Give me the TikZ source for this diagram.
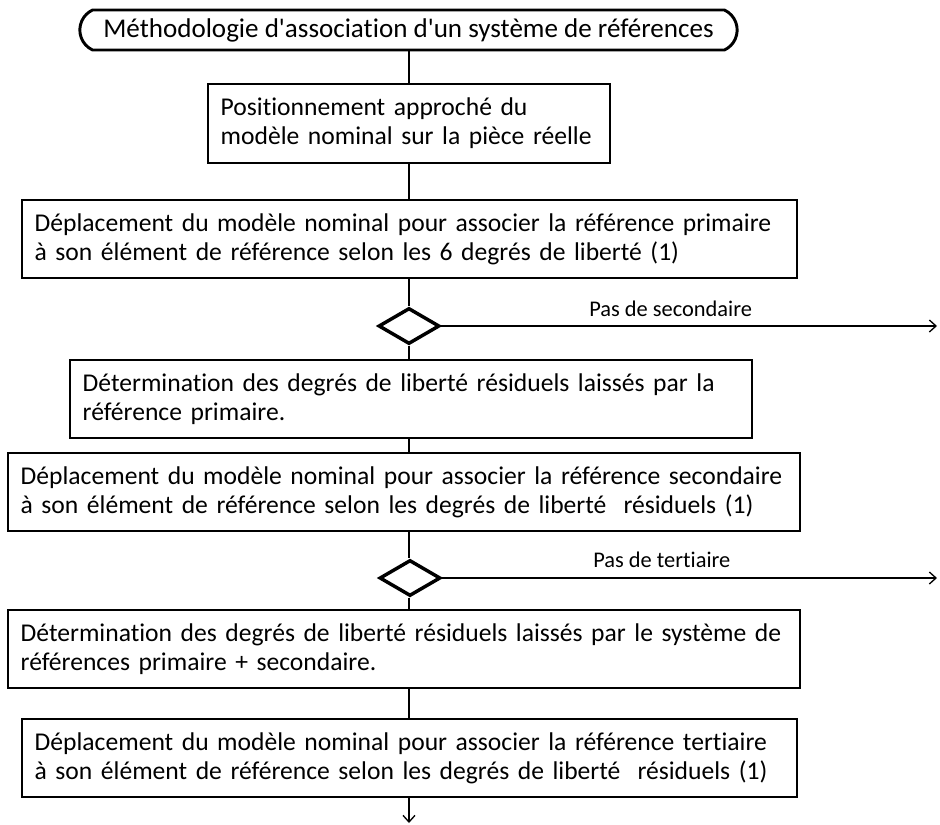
\documentclass[tikz,border=0pt]{standalone}
\usepackage{fontspec}
\setmainfont{Carlito}[Ligatures={TeXOff,NoCommon}]
\usetikzlibrary{positioning,shapes.geometric,shapes.misc,arrows.meta}
\tikzset{
  % --- boxes of the procedure -------------------------------------------------
  etape/.style={rectangle,draw,line width=1.5pt,inner xsep=9.5pt,inner ysep=0pt,
                align=left,font=\fontsize{19.2}{22}\selectfont},
  titre/.style={rounded rectangle,rounded rectangle arc length=130,draw,
                line width=2.2pt,inner xsep=4pt,font=\fontsize{20.3}{23}\selectfont},
  choix/.style={diamond,draw,line width=2.6pt,inner sep=0pt},
  % --- connectors -------------------------------------------------------------
  lien/.style={line width=1pt},
  sortie/.style={-{Straight Barb[length=5pt,width=9pt]},line width=1pt},
  etiq/.style={font=\fontsize{16.8}{19}\selectfont,anchor=base west,inner sep=0pt},
}
\begin{document}
\begin{tikzpicture}[x=0.75pt, y=-0.75pt]
  \useasboundingbox (0,0) rectangle (940,825);
  \coordinate (axe) at (409,0);

  % ---- title and approach ----
  \node[titre,minimum width=668*0.75pt,minimum height=40*0.75pt] (meth) at (408.5,30)
        {Méthodologie d'association d'un système de références};
  \node[etape,minimum width=402*0.75pt,minimum height=79*0.75pt,
        text width=402*0.75pt-19pt] (appr) at (409,123.5)
        {Positionnement approché du\\modèle nominal sur la pièce réelle};
  % ---- primary ----
  \node[etape,minimum width=775*0.75pt,minimum height=78*0.75pt,
        text width=775*0.75pt-19pt] (prim) at (409.5,239)
        {Déplacement du modèle nominal pour associer la référence primaire\\
         à son élément de référence selon les 6 degrés de liberté (1)};
  \node[choix,minimum width=61*0.75pt,minimum height=36*0.75pt] (ch1) at (409,326) {};
  \coordinate (fin1) at (937,326);
  % ---- secondary ----
  \node[etape,minimum width=682*0.75pt,minimum height=78*0.75pt,
        text width=682*0.75pt-19pt] (res1) at (411,399)
        {Détermination des degrés de liberté résiduels laissés par la\\
         référence primaire.};
  \node[etape,minimum width=792*0.75pt,minimum height=78*0.75pt,
        text width=792*0.75pt-19pt] (sec) at (404,492)
        {Déplacement du modèle nominal pour associer la référence secondaire\\
         à son élément de référence selon les degrés de liberté \ résiduels (1)};
  \node[choix,minimum width=61*0.75pt,minimum height=36*0.75pt] (ch2) at (410,578) {};
  \coordinate (fin2) at (937,578);
  % ---- tertiary ----
  \node[etape,minimum width=792*0.75pt,minimum height=78*0.75pt,
        text width=792*0.75pt-19pt] (res2) at (404,649)
        {Détermination des degrés de liberté résiduels laissés par le système de\\
         références primaire + secondaire.};
  \node[etape,minimum width=775*0.75pt,minimum height=78*0.75pt,
        text width=775*0.75pt-19pt] (tert) at (409.5,758)
        {Déplacement du modèle nominal pour associer la référence tertiaire\\
         à son élément de référence selon les degrés de liberté \ résiduels (1)};
  \coordinate (fin3) at (409,823);

  \draw[lien] (meth.south -| axe) -- (appr.north -| axe);
  \draw[lien] (appr.south -| axe) -- (prim.north -| axe);
  \draw[lien] (prim.south -| axe) -- (ch1.north);
  \draw[lien] (ch1.south) -- (res1.north -| axe);
  \draw[lien] (res1.south -| axe) -- (sec.north -| axe);
  \draw[lien] (sec.south -| axe) -- (ch2.north -| axe);
  \draw[lien] (ch2.south -| axe) -- (res2.north -| axe);
  \draw[lien] (res2.south -| axe) -- (tert.north -| axe);
  \draw[sortie] (tert.south -| axe) -- (fin3);

  % ---- exits ----
  \draw[sortie] (ch1.east) -- (fin1);
  \draw[sortie] (ch2.east) -- (fin2);
  \node[etiq] (ps) at (589,316) {Pas de secondaire};
  \node[etiq] (pt) at (593,567) {Pas de tertiaire};
\end{tikzpicture}
\end{document}
